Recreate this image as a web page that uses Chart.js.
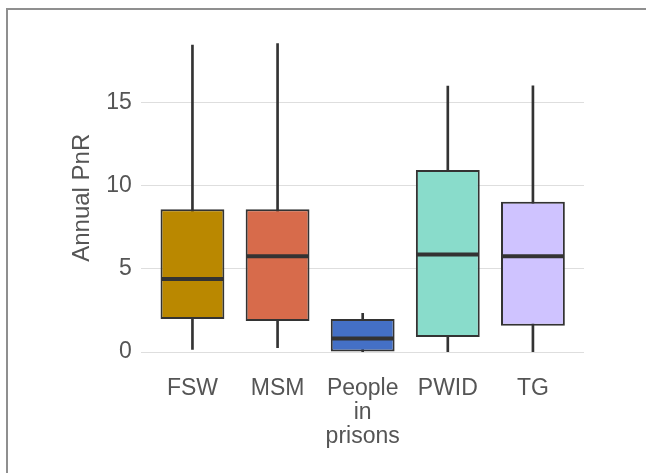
<!DOCTYPE html>
<html>
<head>
<meta charset="utf-8">
<script src="https://cdn.jsdelivr.net/npm/chart.js@4.4.1/dist/chart.umd.min.js"></script>
<style>
  html, body { margin: 0; padding: 0; background: #fff; }
  #wrap { position: relative; width: 646px; height: 473px; overflow: hidden; }
  #frame { position: absolute; left: 6px; top: 8px; right: -4px; bottom: -4px;
           border-top: 2px solid #8f8f8f; border-left: 2px solid #8f8f8f; pointer-events: none; }
  canvas { position: absolute; left: 0; top: 0; }
</style>
</head>
<body>
<div id="wrap">
  <canvas id="c" width="646" height="473"></canvas>
  <div id="frame"></div>
</div>
<script>
const categories = ['FSW', 'MSM', 'People in prisons', 'PWID', 'TG'];
const whiskerLow  = [0.16, 0.26, 0.00, 0.00, 0.00];
const q1          = [1.99, 1.87, 0.00, 0.91, 1.59];
const median      = [4.39, 5.76, 0.82, 5.86, 5.76];
const q3          = [8.58, 8.58, 1.99, 10.95, 9.04];
const whiskerHigh = [18.45, 18.55, 2.33, 15.99, 16.00];
const boxColors   = ['#BA8800', '#D76B4B', '#4470C6', '#89DCCB', '#CFC3FF'];
const yTicks      = [0, 5, 10, 15];

const textColor = '#555555';
const lineColor = '#333333';

const whiskerData = categories.map((c, i) => ({ x: i, y: [whiskerLow[i], whiskerHigh[i]] }));
const boxData     = categories.map((c, i) => ({ x: i, y: [q1[i], q3[i]] }));
const medianData  = categories.map((c, i) => ({ x: i, y: median[i] }));

new Chart(document.getElementById('c'), {
  type: 'bar',
  data: {
    datasets: [
      {
        type: 'line',
        data: medianData,
        showLine: false,
        pointStyle: 'line',
        pointRadius: 31,
        pointHoverRadius: 31,
        borderColor: lineColor,
        pointBorderWidth: 4,
        borderWidth: 4,
        order: 1
      },
      {
        data: boxData,
        backgroundColor: boxColors,
        borderColor: lineColor,
        borderWidth: 2,
        borderSkipped: false,
        grouped: false,
        categoryPercentage: 1,
        barPercentage: 0.75,
        order: 2
      },
      {
        data: whiskerData,
        backgroundColor: lineColor,
        borderWidth: 0,
        grouped: false,
        barThickness: 2,
        order: 3
      }
    ]
  },
  options: {
    responsive: false,
    animation: false,
    events: [],
    layout: { autoPadding: false, padding: { top: 28, right: 62, left: 64, bottom: 15 } },
    plugins: { legend: { display: false }, tooltip: { enabled: false } },
    scales: {
      x: {
        type: 'linear',
        min: -0.6,
        max: categories.length - 1 + 0.6,
        offset: false,
        grid: { display: false, drawTicks: false },
        border: { display: false },
        afterBuildTicks: (axis) => { axis.ticks = categories.map((c, i) => ({ value: i })); },
        ticks: {
          autoSkip: false,
          maxRotation: 0,
          padding: 9,
          color: textColor,
          font: { family: '"Liberation Sans", Arial, sans-serif', size: 23, lineHeight: 1.05 },
          callback: (v) => {
            const lbl = categories[Math.round(v)];
            return lbl && lbl.indexOf(' ') >= 0 ? lbl.split(' ') : lbl;
          }
        }
      },
      y: {
        min: -0.93,
        max: 19.48,
        grid: { color: '#dedede', lineWidth: 1, drawTicks: false },
        border: { display: false },
        afterBuildTicks: (axis) => { axis.ticks = yTicks.map(v => ({ value: v })); },
        ticks: {
          padding: 9.5,
          color: textColor,
          font: { family: '"Liberation Sans", Arial, sans-serif', size: 23 }
        },
        title: {
          display: true,
          text: 'Annual PnR',
          color: textColor,
          padding: { top: 4, bottom: 0 },
          font: { family: '"Liberation Sans", Arial, sans-serif', size: 24 }
        }
      }
    }
  }
});
</script>
</body>
</html>
